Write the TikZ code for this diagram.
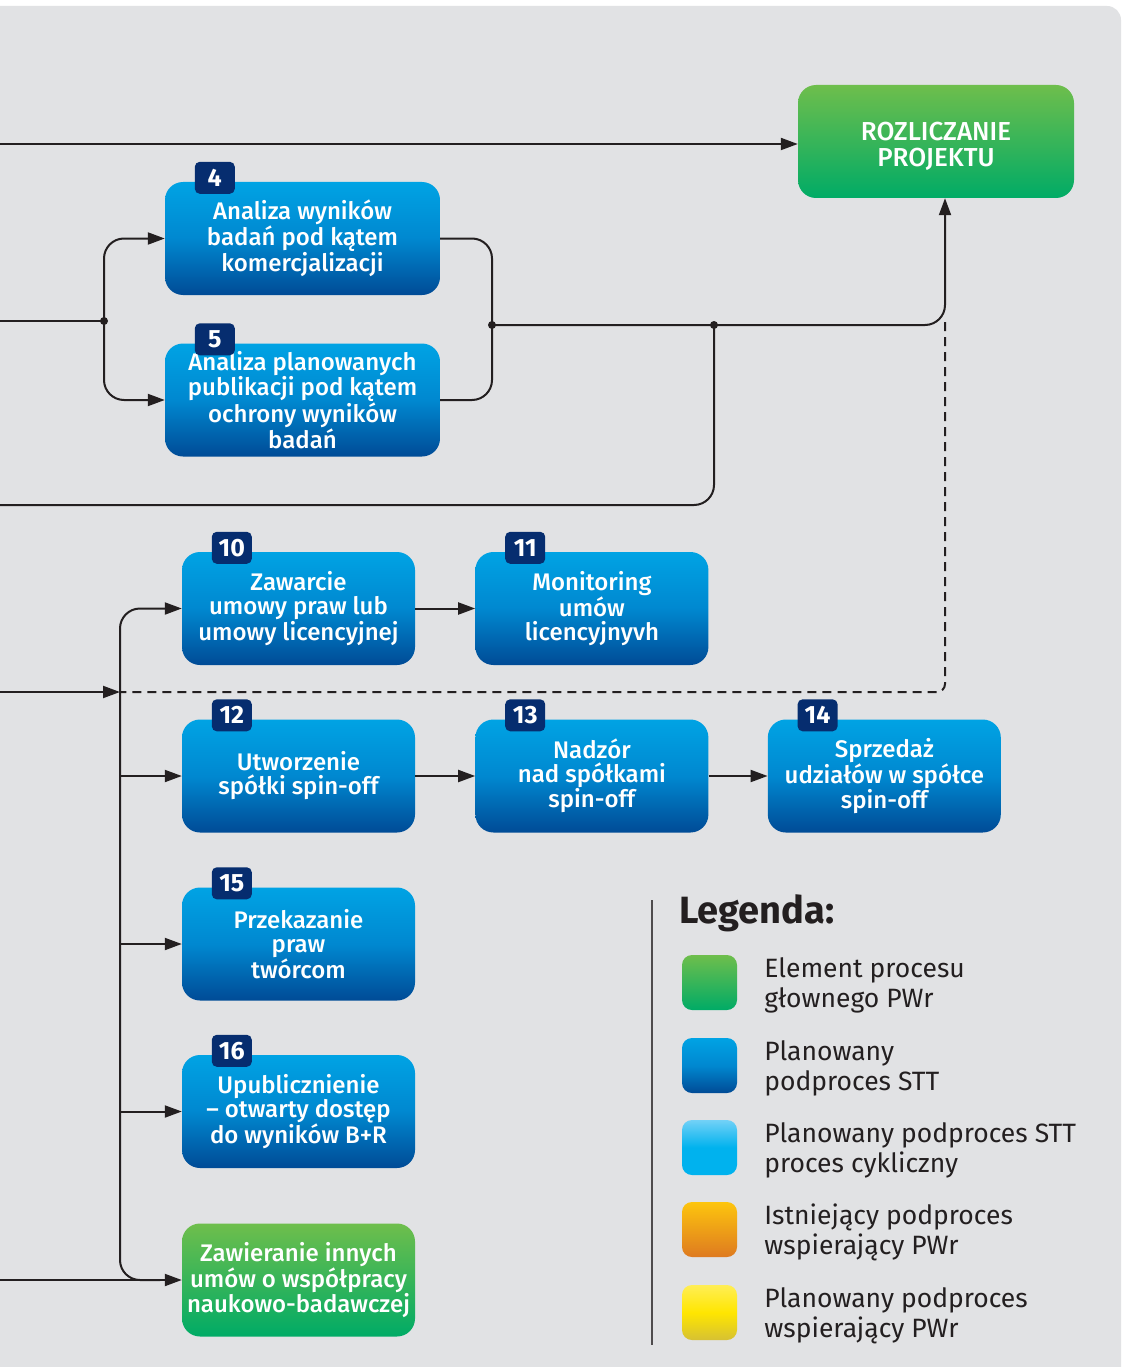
\documentclass[tikz,border=0pt]{standalone}
\usepackage{fontspec}
\setmainfont{Fira Sans}
\newfontfamily\medfont{Fira Sans Medium}
\usetikzlibrary{arrows.meta}
\usetikzlibrary{shapes}
\usetikzlibrary{positioning}

\definecolor{tlo}{HTML}{E1E2E4}
\definecolor{linia}{HTML}{231F20}
\definecolor{granat}{HTML}{062D6F}
\definecolor{blueTop}{HTML}{00A3E4}
\definecolor{blueMid}{HTML}{0088D0}
\definecolor{blueBot}{HTML}{004B96}
\definecolor{greenTop}{HTML}{6EBE4C}
\definecolor{greenBot}{HTML}{00AB66}
\definecolor{cyanTop}{HTML}{72D1F7}
\definecolor{cyanBot}{HTML}{00B2EE}
\definecolor{orangeTop}{HTML}{FDC50E}
\definecolor{orangeBot}{HTML}{DE7A20}
\definecolor{yellowTop}{HTML}{FFEE55}
\definecolor{yellowMid}{HTML}{FFE600}
\definecolor{yellowBot}{HTML}{D6C133}

\tikzset{
  niebieski/.style={top color=blueTop, bottom color=blueBot, middle color=blueMid},
  zielony/.style={top color=greenTop, bottom color=greenBot},
  cyjan/.style={top color=cyanTop, bottom color=cyanBot, middle color=cyanBot},
  pomarancz/.style={top color=orangeTop, bottom color=orangeBot},
  zolty/.style={top color=yellowTop, bottom color=yellowBot, middle color=yellowMid},
  proc/.style={rectangle, rounded corners=18pt, niebieski, minimum width=233pt,
    minimum height=113pt, inner sep=0pt, text=white, align=center,
    font=\medfont\fontsize{24}{24}\selectfont},
  wide/.style={minimum width=275pt},
  mainproc/.style={proc, zielony},
  numbox/.style={rectangle, fill=granat, rounded corners=5pt, minimum width=40pt,
    minimum height=32pt, inner sep=0pt, text=white,
    font=\bfseries\fontsize{25}{25}\selectfont},
  wire/.style={draw=linia, line width=2pt},
  conn/.style={wire, -{Triangle[length=17pt,width=12pt]}},
  legsq/.style={rectangle, rounded corners=10pt, minimum size=55pt, inner sep=0pt},
  legtxt/.style={anchor=west, align=left, text=linia, inner sep=0pt,
    font=\fontsize{26.5}{30}\selectfont},
}

% number tag on top of a box
\newcommand{\nrbox}[2]{\node[numbox] (#1n) at ([xshift=50pt,yshift=4pt]#1.north west) {#2};}

\begin{document}
\begin{tikzpicture}[x=1pt,y=-1pt]
  \useasboundingbox (0,0) rectangle (1124,1367);
  \clip (0,0) rectangle (1124,1367);
  \fill[white] (0,0) rectangle (1124,1367);
  \fill[tlo, rounded corners=14pt] (-30,6) rectangle (1121,1400);

  % boxes
  \node[mainproc, minimum width=276pt] (rozl) at (936,141.5) {};
  \node[text=white, align=center, inner sep=0pt, font=\medfont\fontsize{26}{26}\selectfont]
    (rozlT) at ([yshift=-5pt]rozl.center) {ROZLICZANIE\\PROJEKTU};
  \node[proc, wide] (an4) at (302.5,238.5) {Analiza wyników\\badań pod kątem\\komercjalizacji};
  \node[proc, wide] (an5) at (302.5,400) {Analiza planowanych\\publikacji pod kątem\\ochrony wyników\\badań};
  \node[proc] (b10) at (298.5,608.5) {Zawarcie\\umowy praw lub\\umowy licencyjnej};
  \node[proc, right=60pt of b10] (b11) {Monitoring\\umów\\licencyjnyvh};
  \node[proc] (b12) at (298.5,776) {Utworzenie\\spółki spin-off};
  \node[proc, right=60pt of b12] (b13) {Nadzór\\nad spółkami\\spin-off};
  \node[proc, right=59pt of b13] (b14) {Sprzedaż\\udziałów w spółce\\spin-off};
  \node[proc] (b15) at (298.5,944) {Przekazanie\\praw\\twórcom};
  \node[proc] (b16) at (298.5,1111.5) {Upublicznienie\\– otwarty dostęp\\do wyników B+R};
  \node[mainproc] (inne) at (298.5,1280) {Zawieranie innych\\umów o współpracy\\naukowo-badawczej};

  \nrbox{an4}{4}
  \nrbox{an5}{5}
  \nrbox{b10}{10}
  \nrbox{b11}{11}
  \nrbox{b12}{12}
  \nrbox{b13}{13}
  \nrbox{b14}{14}
  \nrbox{b15}{15}
  \nrbox{b16}{16}

  % lines coming in from the left
  \coordinate (wejA) at (0,144);
  \coordinate (wejB) at (0,321);
  \coordinate (wejC) at (0,505);
  \coordinate (wejD) at (0,692);
  \coordinate (wejE) at (0,1280);
  \coordinate (rozw) at (104,321);
  \coordinate (zbieg) at (492,325);
  \coordinate (zbieg2) at (714,325);
  \coordinate (pien) at (120,692);
  \coordinate (rozlIn) at ([xshift=9pt]rozl.south);

  \draw[conn] (wejA) -- (wejA -| rozl.west);
  \draw[wire] (wejB) -- (rozw);
  \draw[conn, rounded corners=20pt] (rozw) |- (an4.west);
  \draw[conn, rounded corners=20pt] (rozw) |- (an5.west);
  \draw[wire, rounded corners=20pt] (an4.east) -| (zbieg);
  \draw[wire, rounded corners=20pt] (an5.east) -| (zbieg);
  \draw[conn, rounded corners=20pt] (zbieg) -| (rozlIn);
  \draw[wire, rounded corners=20pt] (wejC) -| (zbieg2);
  \fill[linia] (rozw) circle (4pt) (zbieg) circle (4pt) (zbieg2) circle (4pt);

  % dashed return
  \draw[wire, dash pattern=on 9pt off 6pt, rounded corners=8pt] (945,322) |- (pien);
  \draw[conn] (wejD) -- (pien);

  % trunk to the second group
  \draw[conn, rounded corners=20pt] (160,1280) -| (b10.west -| pien) -- (b10.west);
  \foreach \b in {b12,b15,b16}
    \draw[conn] (\b.west -| pien) -- (\b.west);
  \draw[conn] (wejE) -- (inne.west);
  \draw[conn] (b10) -- (b11);
  \draw[conn] (b12) -- (b13);
  \draw[conn] (b13) -- (b14);

  % legend
  \draw[draw=linia!80, line width=1.5pt] (652,900) -- (652,1345);
  \node[anchor=west, inner sep=0pt, text=linia, font=\bfseries\fontsize{38}{40}\selectfont]
    (leg) at (679,913) {Legenda:};
  \foreach \y/\sty/\txt [count=\i] in {
      982.5/zielony/{Element procesu\\głownego PWr},
      1065.5/niebieski/{Planowany\\podproces STT},
      1147.5/cyjan/{Planowany podproces STT\\proces cykliczny},
      1229.5/pomarancz/{Istniejący podproces\\wspierający PWr},
      1312.5/zolty/{Planowany podproces\\wspierający PWr}} {
    \node[legsq, \sty] (sq\i) at (709.5,\y) {};
    \node[legtxt, right=27pt of sq\i, yshift=-3pt] (lt\i) {\txt};
  }
\end{tikzpicture}
\end{document}
